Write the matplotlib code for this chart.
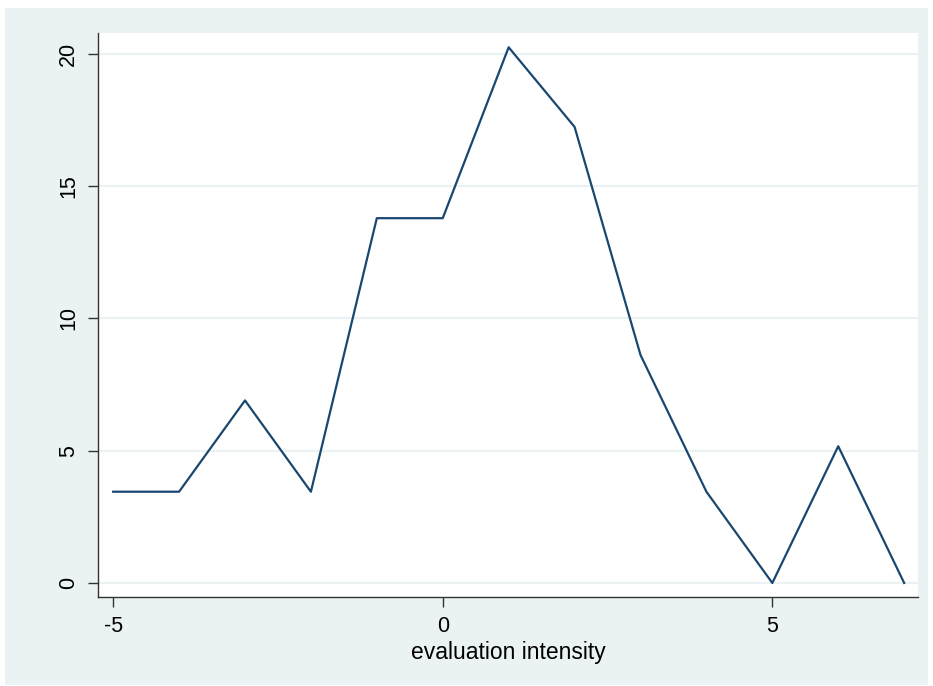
import matplotlib
matplotlib.use("Agg")
import matplotlib.pyplot as plt
from matplotlib.patches import Rectangle

# data
x_vals = [-5, -4, -3, -2, -1, 0, 1, 2, 3, 4, 5, 6, 7]
y_vals = [3.45, 3.45, 6.9, 3.45, 13.79, 13.79, 20.25, 17.24, 8.62, 3.45, 0, 5.17, 0]
x_ticks = [-5, 0, 5]
y_ticks = [0, 5, 10, 15, 20]

plt.rcParams['font.family'] = ['Liberation Sans', 'DejaVu Sans']

W, H = 933, 686
fig = plt.figure(figsize=(W / 100, H / 100), dpi=100)
fig.patch.set_facecolor('white')

# stata-like outer panel, kept behind the axes
fig.patches.append(Rectangle((5 / W, 1 - 685 / H), 923 / W, 677 / H,
                             transform=fig.transFigure, facecolor='#EAF2F3',
                             edgecolor='none', zorder=-10))

ax = fig.add_axes([98 / W, 1 - 597 / H, 820 / W, 564 / H])
ax.set_facecolor('white')
ax.plot(x_vals, y_vals, color='#1A476F', linewidth=1.6, zorder=3)

ax.set_xlim(-5.23, 7.21)
ax.set_ylim(-0.53, 20.79)
ax.set_xticks(x_ticks)
ax.set_yticks(y_ticks)
ax.set_xticklabels([str(v) for v in x_ticks], fontsize=15.5)
ax.set_yticklabels([str(v) for v in y_ticks], fontsize=15.5, rotation=90, va='center')
ax.grid(axis='y', color='#EAF2F3', linewidth=1.5, zorder=1)
ax.set_axisbelow(True)

for side in ['top', 'right']:
    ax.spines[side].set_visible(False)
for side in ['left', 'bottom']:
    ax.spines[side].set_color('#333333')
    ax.spines[side].set_linewidth(1.0)
ax.tick_params(direction='out', length=7.5, width=1, color='#333333', pad=6)

ax.set_xlabel('evaluation intensity', fontsize=16.5, labelpad=3)

fig.savefig('out.png', dpi=100)
